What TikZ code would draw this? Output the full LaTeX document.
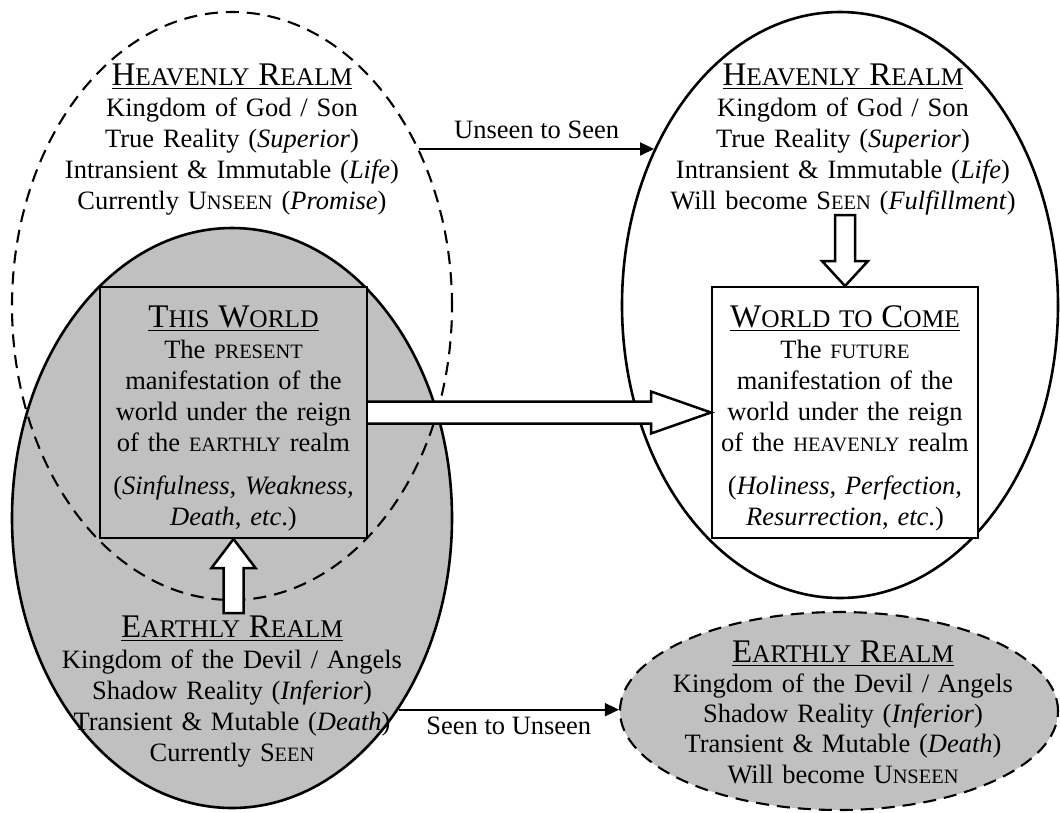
\documentclass[tikz,border=0pt]{standalone}
\usepackage{fontspec}
\setmainfont{Liberation Serif}
\usetikzlibrary{shapes.geometric,arrows.meta,calc}
\definecolor{realmgrey}{RGB}{192,192,192}
% underlined heading with a heavier rule
\newsavebox\ulbox
\newcommand{\ulined}[1]{\sbox\ulbox{#1}\rlap{\rule[-4pt]{\wd\ulbox}{1.4pt}}\usebox\ulbox}
% small capitals imitated by reduced upper case
\newcommand{\smc}[1]{{\fontsize{20.4pt}{20pt}\selectfont #1}}
\newcommand{\tsc}[1]{{\fontsize{25.4pt}{25pt}\selectfont #1}}
\newcommand{\ttl}[1]{\ulined{\fontsize{33pt}{33pt}\selectfont #1}}
\begin{document}
\begin{tikzpicture}[x=1pt,y=-1pt,
  realm/.style={ellipse, inner sep=0pt, line width=2.6pt},
  dashedrealm/.style={ellipse, inner sep=0pt, dash pattern=on 13pt off 8pt, line width=2.1pt},
  worldbox/.style={rectangle, inner sep=0pt, draw, line width=2pt},
  txt/.style={align=center, text width=440pt, anchor=base, inner sep=0pt,
    font=\fontsize{26.5pt}{31pt}\selectfont},
  hollow/.style={draw, fill=white, line width=2.5pt, line join=miter},
  flow/.style={draw, line width=1.8pt, -{Triangle[length=14pt,width=13pt]}},
  lbl/.style={font=\fontsize{26.5pt}{31pt}\selectfont, inner sep=0pt, anchor=base}
]
\fill[white] (0,0) rectangle (1060,812);
\useasboundingbox (0,0) rectangle (1060,812);

% present age: earthly realm, heavenly realm over it, and this world
\node[realm, draw, fill=realmgrey, minimum width=440pt, minimum height=580pt] (er) at (232,518) {};
\node[dashedrealm, draw, minimum width=440pt, minimum height=588pt] (hr) at (232,306) {};
\node[worldbox, fill=realmgrey, minimum width=267pt, minimum height=251pt] (tw) at (233.5,412.5) {};
\draw[hollow] ($(tw.south)+(-10,74)$) -- ($(tw.south)+(-10,29)$) -- ($(tw.south)+(-22,29)$)
  -- (tw.south) -- ($(tw.south)+(22,29)$) -- ($(tw.south)+(10,29)$) -- ($(tw.south)+(10,74)$) -- cycle;

% age to come: heavenly realm, world to come, earthly realm
\node[realm, draw, fill=white, minimum width=436pt, minimum height=586pt] (hf) at (840,305) {};
\node[worldbox, fill=white, minimum width=266pt, minimum height=251pt] (wc) at (845,412.5) {};
\draw[hollow] ($(wc.north)+(-10,-71)$) -- ($(wc.north)+(-10,-25)$) -- ($(wc.north)+(-23,-25)$)
  -- (wc.north) -- ($(wc.north)+(23,-25)$) -- ($(wc.north)+(10,-25)$) -- ($(wc.north)+(10,-71)$) -- cycle;
\node[dashedrealm, draw, fill=realmgrey, minimum width=438pt, minimum height=198pt] (ef) at (839,711) {};

% transitions
\draw[flow] (hr.40) -- node[lbl, midway, yshift=10pt] {Unseen to Seen} (hf.140);
\draw[flow] (er.-49) -- node[lbl, midway, yshift=-25pt] {Seen to Unseen} (er.-49 -| ef.west);
\draw[hollow] ($(tw.east)+(0,-11)$) -- ($(wc.west)+(-60,-11)$) -- ($(wc.west)+(-60,-21)$)
  -- (wc.west) -- ($(wc.west)+(-60,21)$) -- ($(wc.west)+(-60,11)$) -- ($(tw.east)+(0,11)$);

% texts
\node[txt] (hrt) at (232,85) {\ttl{H\tsc{EAVENLY} R\tsc{EALM}}\\
  Kingdom of God / Son\\
  True Reality (\textit{Superior})\\
  Intransient \& Immutable (\textit{Life})\\
  Currently U\smc{NSEEN} (\textit{Promise})};
\node[txt] (twt) at (233.5,327) {\ttl{T\tsc{HIS} W\tsc{ORLD}}\\
  The \smc{PRESENT}\\
  manifestation of the\\
  world under the reign\\
  of the \smc{EARTHLY} realm\\[12pt]
  (\textit{Sinfulness, Weakness,}\\
  \textit{Death}, \textit{etc}.)};
\node[txt] (ert) at (232,637) {\ttl{E\tsc{ARTHLY} R\tsc{EALM}}\\
  Kingdom of the Devil / Angels\\
  Shadow Reality (\textit{Inferior})\\
  Transient \& Mutable (\textit{Death})\\
  Currently S\smc{EEN}};
\node[txt] (hft) at (843,85) {\ttl{H\tsc{EAVENLY} R\tsc{EALM}}\\
  Kingdom of God / Son\\
  True Reality (\textit{Superior})\\
  Intransient \& Immutable (\textit{Life})\\
  Will become S\smc{EEN} (\textit{Fulfillment})};
\node[txt] (wct) at (845,327) {\ttl{W\tsc{ORLD} \tsc{TO} C\tsc{OME}}\\
  The \smc{FUTURE}\\
  manifestation of the\\
  world under the reign\\
  of the \smc{HEAVENLY} realm\\[12pt]
  (\textit{Holiness, Perfection,}\\
  \textit{Resurrection}, \textit{etc}.)};
\node[txt, font=\fontsize{26.5pt}{30.3pt}\selectfont] (eft) at (843,662) {\ttl{E\tsc{ARTHLY} R\tsc{EALM}}\\
  Kingdom of the Devil / Angels\\
  Shadow Reality (\textit{Inferior})\\
  Transient \& Mutable (\textit{Death})\\
  Will become U\smc{NSEEN}};
\end{tikzpicture}
\end{document}
